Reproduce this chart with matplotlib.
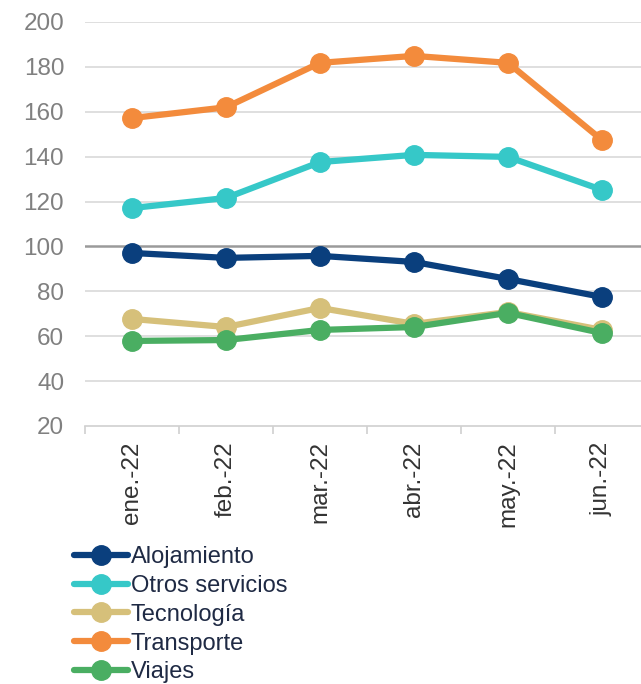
import matplotlib
matplotlib.use("Agg")
import matplotlib.pyplot as plt
import numpy as np

plt.rcParams['font.family'] = ['Liberation Sans', 'DejaVu Sans']

months = ["ene.-22", "feb.-22", "mar.-22", "abr.-22", "may.-22", "jun.-22"]
alojamiento = [97.1, 94.9, 95.8, 93.1, 85.5, 77.5]
otros_servicios = [117.1, 121.6, 137.6, 140.8, 139.9, 125.2]
tecnologia = [67.7, 64.1, 72.6, 65.5, 70.8, 62.8]
transporte = [157.2, 162.0, 181.8, 184.9, 181.8, 147.4]
viajes = [57.9, 58.3, 62.8, 64.1, 70.4, 61.4]

series = [
    ("Alojamiento", alojamiento, "#0a3f7d"),
    ("Otros servicios", otros_servicios, "#36c8c8"),
    ("Tecnología", tecnologia, "#d6c07a"),
    ("Transporte", transporte, "#f38b3c"),
    ("Viajes", viajes, "#4aae62"),
]

W, H = 641, 684
fig = plt.figure(figsize=(W / 100, H / 100), dpi=100)
ax = fig.add_axes([85 / W, 258 / H, 564 / W, 404 / H])

x = np.arange(len(months))
for name, vals, col in series:
    ax.plot(x, vals, color=col, lw=4.5, marker="o", ms=14, label=name,
            solid_capstyle="round", zorder=3)

ax.set_xlim(-0.5, len(months) - 0.5)
ax.set_ylim(20, 200)
ax.set_yticks(np.arange(20, 201, 20))
for yv in range(40, 201, 20):
    if yv == 100:
        ax.axhline(yv, color="#9a9a9a", lw=1.8, zorder=1)
    else:
        ax.axhline(yv, color="#d9d9d9", lw=1.2, zorder=1)

for s in ["top", "right", "left"]:
    ax.spines[s].set_visible(False)
ax.spines["bottom"].set_color("#d0d0d0")
ax.spines["bottom"].set_linewidth(1.2)

ax.tick_params(axis="y", length=0, labelsize=17.5, labelcolor="#808080", pad=15)
ax.set_xticks(np.arange(-0.5, len(months), 1.0))
ax.set_xticklabels([])
ax.tick_params(axis="x", which="major", length=6, color="#d0d0d0", width=1.2)
ax.set_xticks(x, minor=True)
ax.set_xticklabels(months, minor=True, rotation=90, fontsize=17.5, color="#333333")
ax.tick_params(axis="x", which="minor", length=0, pad=11)

leg = fig.legend(loc="upper left", bbox_to_anchor=(74 / W, 1 - 546 / H),
                 frameon=False, fontsize=17, handlelength=2.3, handletextpad=0.1,
                 labelspacing=0.29, borderaxespad=0, borderpad=0)
for t in leg.get_texts():
    t.set_color("#1f2a44")

fig.savefig("out.png", dpi=100)
